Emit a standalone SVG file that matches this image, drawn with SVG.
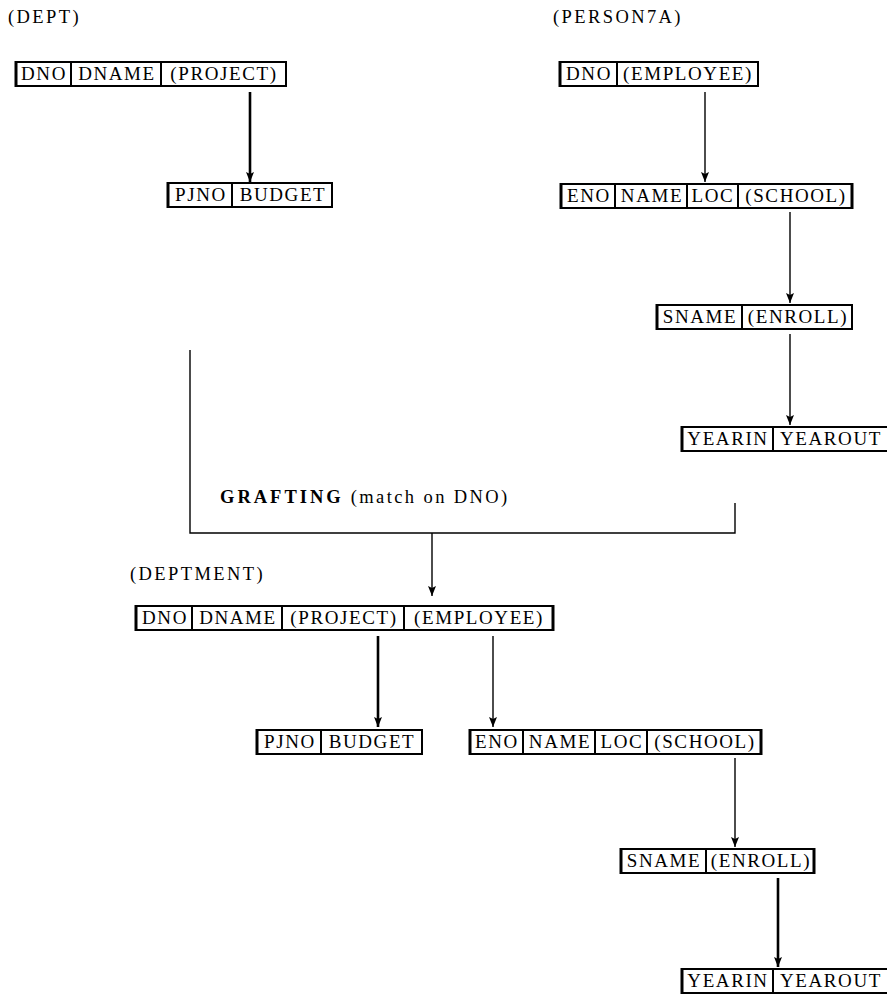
<svg xmlns="http://www.w3.org/2000/svg" width="887" height="994" viewBox="0 0 887 994">
<style>
text{font-family:"Liberation Serif","DejaVu Serif",serif;fill:#000}
.c{font-size:19px;text-anchor:middle;letter-spacing:1.6px}
.lbl{font-size:18.5px;letter-spacing:2.4px}
.box{fill:#fff;stroke:#000;stroke-width:2}
.div{stroke:#000;stroke-width:2}
.edge{stroke:#000;stroke-width:3}
.th{stroke:#000;stroke-width:1.4;fill:none}
.tk{stroke:#000;stroke-width:2.6;fill:none}
</style>
<defs>
<marker id="ah" markerWidth="10" markerHeight="8" refX="10" refY="4" orient="auto" markerUnits="userSpaceOnUse" viewBox="0 0 10 8">
<path d="M0,0 L10,4 L0,8 L2,4 Z" fill="#000"/>
</marker>
</defs>
<rect width="887" height="994" fill="#fff"/>
<text class="lbl" x="8" y="23">(DEPT)</text>
<text class="lbl" x="553" y="23">(PERSON7A)</text>
<text class="lbl" x="130" y="580">(DEPTMENT)</text>
<text x="220" y="503" style="font-size:18.5px;letter-spacing:2.4px"><tspan font-weight="bold" style="letter-spacing:3px">GRAFTING</tspan> (match on DNO)</text>

<g id="connectors">
<line class="tk" x1="250" y1="92" x2="250" y2="182" marker-end="url(#ah)"/>
<line class="th" x1="705" y1="92" x2="705" y2="182" marker-end="url(#ah)"/>
<line class="th" x1="790" y1="212" x2="790" y2="303" marker-end="url(#ah)"/>
<line class="th" x1="790" y1="334" x2="790" y2="425" marker-end="url(#ah)"/>
<polyline class="th" points="190,350 190,533 735,533 735,503"/>
<line class="th" x1="432" y1="533" x2="432" y2="596" marker-end="url(#ah)"/>
<line class="tk" x1="378" y1="636" x2="378" y2="727" marker-end="url(#ah)"/>
<line class="th" x1="493" y1="636" x2="493" y2="727" marker-end="url(#ah)"/>
<line class="th" x1="735" y1="758" x2="735" y2="847" marker-end="url(#ah)"/>
<line class="tk" x1="778" y1="878" x2="778" y2="967" marker-end="url(#ah)"/>
</g>

<g id="dept">
<rect class="box" x="16" y="62" width="270" height="24"/>
<line class="edge" x1="16" y1="61" x2="16" y2="87"/>
<line class="div" x1="71" y1="62" x2="71" y2="86"/>
<line class="div" x1="161" y1="62" x2="161" y2="86"/>
<text class="c" x="44" y="80">DNO</text>
<text class="c" x="117" y="80">DNAME</text>
<text class="c" x="224" y="80">(PROJECT)</text>
</g>
<g id="project1">
<rect class="box" x="168" y="183" width="164" height="24"/>
<line class="edge" x1="168" y1="182" x2="168" y2="208"/>
<line class="div" x1="232" y1="183" x2="232" y2="207"/>
<text class="c" x="201" y="201">PJNO</text>
<text class="c" x="283" y="201">BUDGET</text>
</g>
<g id="person7a">
<rect class="box" x="560" y="62" width="198" height="24"/>
<line class="edge" x1="560" y1="61" x2="560" y2="87"/>
<line class="div" x1="617" y1="62" x2="617" y2="86"/>
<text class="c" x="589" y="80">DNO</text>
<text class="c" x="688" y="80">(EMPLOYEE)</text>
</g>
<g id="employee1">
<rect class="box" x="561" y="184" width="291" height="24"/>
<line class="edge" x1="561" y1="183" x2="561" y2="209"/>
<line class="edge" x1="852" y1="183" x2="852" y2="209"/>
<line class="div" x1="615" y1="184" x2="615" y2="208"/>
<line class="div" x1="687" y1="184" x2="687" y2="208"/>
<line class="div" x1="738" y1="184" x2="738" y2="208"/>
<text class="c" x="589" y="202">ENO</text>
<text class="c" x="652" y="202">NAME</text>
<text class="c" x="713" y="202">LOC</text>
<text class="c" x="796" y="202">(SCHOOL)</text>
</g>
<g id="school1">
<rect class="box" x="657" y="305" width="195" height="24"/>
<line class="edge" x1="657" y1="304" x2="657" y2="330"/>
<line class="div" x1="742" y1="305" x2="742" y2="329"/>
<text class="c" x="700" y="323">SNAME</text>
<text class="c" x="798" y="323">(ENROLL)</text>
</g>
<g id="enroll1">
<rect class="box" x="682" y="427" width="210" height="24"/>
<line class="edge" x1="682" y1="426" x2="682" y2="452"/>
<line class="div" x1="773" y1="427" x2="773" y2="451"/>
<text class="c" x="728" y="445">YEARIN</text>
<text class="c" x="831" y="445">YEAROUT</text>
</g>

<g id="deptment">
<rect class="box" x="136" y="606" width="417" height="24"/>
<line class="edge" x1="136" y1="605" x2="136" y2="631"/>
<line class="edge" x1="553" y1="605" x2="553" y2="631"/>
<line class="div" x1="192" y1="606" x2="192" y2="630"/>
<line class="div" x1="282" y1="606" x2="282" y2="630"/>
<line class="div" x1="404" y1="606" x2="404" y2="630"/>
<text class="c" x="165" y="624">DNO</text>
<text class="c" x="238" y="624">DNAME</text>
<text class="c" x="344" y="624">(PROJECT)</text>
<text class="c" x="479" y="624">(EMPLOYEE)</text>
</g>
<g id="project2">
<rect class="box" x="257" y="730" width="165" height="24"/>
<line class="edge" x1="257" y1="729" x2="257" y2="755"/>
<line class="div" x1="321" y1="730" x2="321" y2="754"/>
<text class="c" x="290" y="748">PJNO</text>
<text class="c" x="372" y="748">BUDGET</text>
</g>
<g id="employee2">
<rect class="box" x="470" y="730" width="291" height="24"/>
<line class="edge" x1="470" y1="729" x2="470" y2="755"/>
<line class="edge" x1="761" y1="729" x2="761" y2="755"/>
<line class="div" x1="523" y1="730" x2="523" y2="754"/>
<line class="div" x1="595" y1="730" x2="595" y2="754"/>
<line class="div" x1="647" y1="730" x2="647" y2="754"/>
<text class="c" x="497" y="748">ENO</text>
<text class="c" x="560" y="748">NAME</text>
<text class="c" x="622" y="748">LOC</text>
<text class="c" x="705" y="748">(SCHOOL)</text>
</g>
<g id="school2">
<rect class="box" x="621" y="849" width="193" height="24"/>
<line class="edge" x1="621" y1="848" x2="621" y2="874"/>
<line class="edge" x1="814" y1="848" x2="814" y2="874"/>
<line class="div" x1="706" y1="849" x2="706" y2="873"/>
<text class="c" x="664" y="867">SNAME</text>
<text class="c" x="761" y="867">(ENROLL)</text>
</g>
<g id="enroll2">
<rect class="box" x="682" y="969" width="210" height="24"/>
<line class="edge" x1="682" y1="968" x2="682" y2="994"/>
<line class="div" x1="773" y1="969" x2="773" y2="993"/>
<text class="c" x="728" y="987">YEARIN</text>
<text class="c" x="831" y="987">YEAROUT</text>
</g>
</svg>
